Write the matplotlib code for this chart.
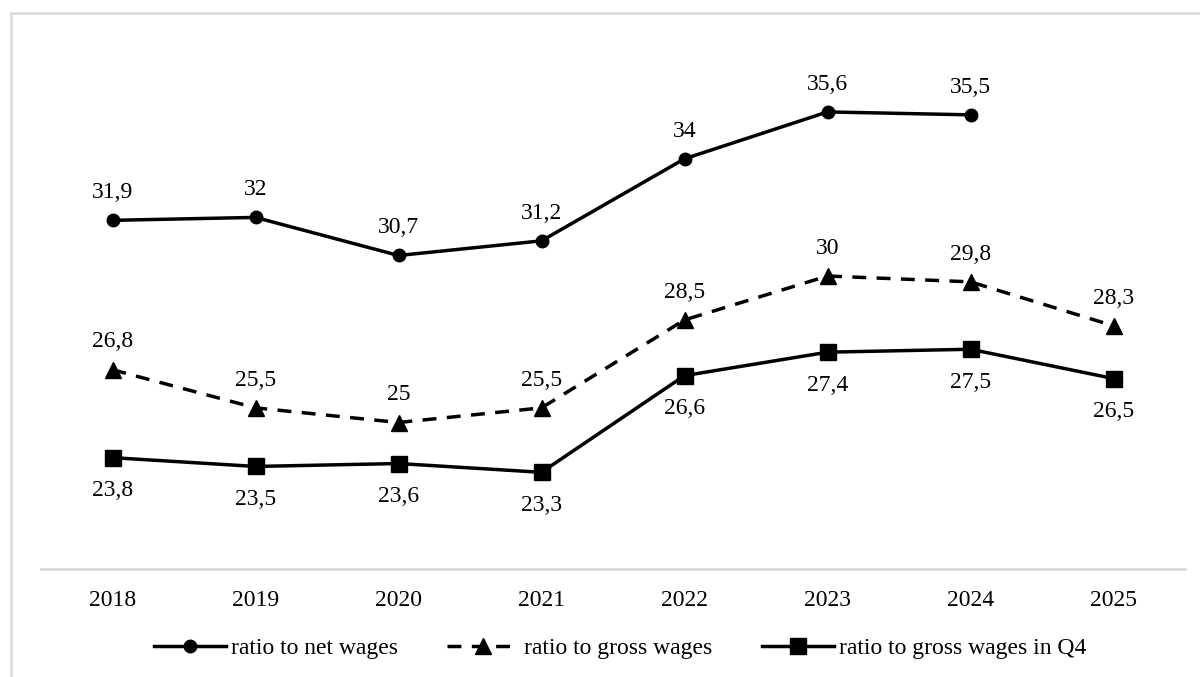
import matplotlib.pyplot as plt
from matplotlib.patches import Rectangle

plt.rcParams['font.family'] = ['Liberation Serif', 'DejaVu Serif']

years = ['2018', '2019', '2020', '2021', '2022', '2023', '2024', '2025']
net_wages = [31.9, 32, 30.7, 31.2, 34, 35.6, 35.5]
gross_wages = [26.8, 25.5, 25, 25.5, 28.5, 30, 29.8, 28.3]
gross_q4 = [23.8, 23.5, 23.6, 23.3, 26.6, 27.4, 27.5, 26.5]


def fmt(v):
    s = f"{v:g}"
    return s.replace('.', ',')


fig = plt.figure(figsize=(12, 6.77), dpi=100)
ax = fig.add_axes([41 / 1200, 1 - 569 / 677, 1144 / 1200, (569 - 41.6) / 677])

# grey frame around the chart (cut off at right/bottom like the source)
fig.patches.append(Rectangle((11 / 1200, -0.05), 1.2, 1 - 13 / 677 + 0.05,
                             transform=fig.transFigure, fill=False,
                             edgecolor='#d9d9d9', linewidth=1.8))

x_net = list(range(len(net_wages)))
x_all = list(range(len(years)))

lw = 2.5
ax.plot(x_net, net_wages, color='black', lw=lw, marker='o', ms=9,
        label='ratio to net wages')
ax.plot(x_all, gross_wages, color='black', lw=lw, marker='^', ms=12,
        dashes=(4.0, 3.0), label='ratio to gross wages')
ax.plot(x_all, gross_q4, color='black', lw=lw, marker='s', ms=11,
        label='ratio to gross wages in Q4')

fs = 17
for x, v in zip(x_net, net_wages):
    ax.annotate(fmt(v), (x, v), xytext=(0, 20), textcoords='offset points',
                ha='center', va='center', fontsize=fs)
for x, v in zip(x_all, gross_wages):
    ax.annotate(fmt(v), (x, v), xytext=(0, 20), textcoords='offset points',
                ha='center', va='center', fontsize=fs)
for x, v in zip(x_all, gross_q4):
    ax.annotate(fmt(v), (x, v), xytext=(0, -24), textcoords='offset points',
                ha='center', va='center', fontsize=fs)

ax.set_xlim(-0.5, len(years) - 0.5)
ax.set_ylim(20, 38)
ax.set_xticks(x_all)
ax.set_xticklabels(years, fontsize=fs)
ax.set_yticks([])
ax.tick_params(axis='x', length=0, pad=15)
for side in ['top', 'right', 'left']:
    ax.spines[side].set_visible(False)
ax.spines['bottom'].set_color('#d9d9d9')
ax.spines['bottom'].set_linewidth(2)

ax.legend(loc='center', bbox_to_anchor=(620 / 1200, 1 - 648 / 677),
          bbox_transform=fig.transFigure, ncol=3, frameon=False,
          fontsize=fs, handlelength=3.05, handletextpad=0.2,
          columnspacing=2.1)

fig.savefig('out.png', dpi=100)
